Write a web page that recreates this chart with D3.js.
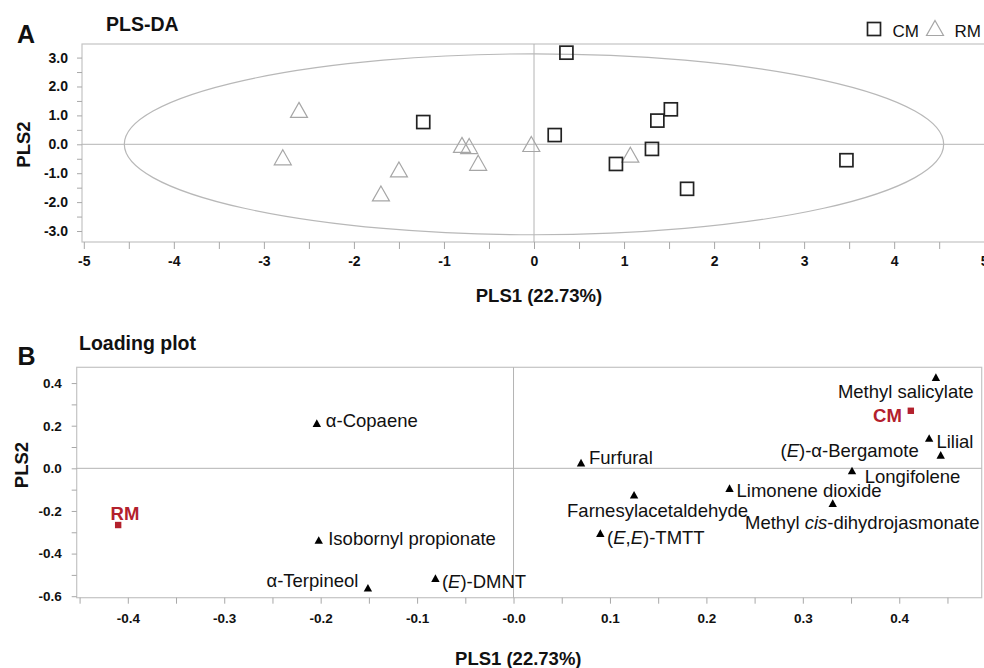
<!DOCTYPE html>
<html>
<head>
<meta charset="utf-8">
<script src="https://cdn.jsdelivr.net/npm/d3@7"></script>
<style>
  html, body { margin: 0; padding: 0; background: #fff; }
  svg { display: block; font-family: "Liberation Sans", Arial, sans-serif; }
</style>
</head>
<body>
<svg id="chart" width="984" height="668"></svg>
<script>
// ---------------- DATA ----------------
// Panel A: PLS-DA scores
const cmScoreX = [0.36, 0.23, 1.52, 1.37, 1.31, 0.91, 1.70, 3.47, -1.23];
const cmScoreY = [3.17, 0.32, 1.21, 0.82, -0.16, -0.68, -1.54, -0.55, 0.77];
const rmScoreX = [-2.61, -2.79, -1.50, -1.70, -0.80, -0.72, -0.62, -0.03, 1.07];
const rmScoreY = [1.19, -0.45, -0.87, -1.70, -0.02, -0.06, -0.64, 0.01, -0.36];
const ellipseRadiusX = 4.55;   // Hotelling T2 ellipse (PLS1 units)
const ellipseRadiusY = 3.13;   // (PLS2 units)
const legendGroups = ["CM", "RM"];

const xTicksA = [-5, -4, -3, -2, -1, 0, 1, 2, 3, 4, 5];
const yTicksA = [3, 2, 1, 0, -1, -2, -3];
const xTickLabelsA = ["-5", "-4", "-3", "-2", "-1", "0", "1", "2", "3", "4", "5"];
const yTickLabelsA = ["3.0", "2.0", "1.0", "0.0", "-1.0", "-2.0", "-3.0"];

// Panel B: loading plot
const loadNames = [
  "α-Copaene", "Isobornyl propionate", "α-Terpineol", "(<i>E</i>)-DMNT",
  "Furfural", "Farnesylacetaldehyde", "(<i>E</i>,<i>E</i>)-TMTT", "Limonene dioxide",
  "Methyl <i>cis</i>-dihydrojasmonate", "Longifolene", "Lilial",
  "(<i>E</i>)-α-Bergamote", "Methyl salicylate"
];
const loadX = [-0.204, -0.202, -0.151, -0.081, 0.070, 0.125, 0.090, 0.224, 0.331, 0.351, 0.431, 0.443, 0.438];
const loadY = [0.211, -0.337, -0.561, -0.516, 0.026, -0.125, -0.305, -0.094, -0.164, -0.011, 0.141, 0.062, 0.427];
const groupNames = ["CM", "RM"];
const groupX = [0.412, -0.410];
const groupY = [0.270, -0.266];

const xTicksB = [-0.4, -0.3, -0.2, -0.1, 0, 0.1, 0.2, 0.3, 0.4];
const xTickLabelsB = ["-0.4", "-0.3", "-0.2", "-0.1", "-0.0", "0.1", "0.2", "0.3", "0.4"];
const yTicksB = [0.4, 0.2, 0, -0.2, -0.4, -0.6];
const yTickLabelsB = ["0.4", "0.2", "0.0", "-0.2", "-0.4", "-0.6"];

// label placement (layout only): [dx, dy, anchor]
const loadLabelPlacement = [
  [9, 4, "start"], [9.5, 5, "start"], [-9.5, -1, "end"], [6.5, 10, "start"],
  [8, 1, "start"], [-67, 21.7, "start"], [6.7, 10.7, "start"], [7, 8.4, "start"],
  [-87.7, 25.7, "start"], [12.7, 12, "start"], [7.3, 10, "start"],
  [-22, 1.7, "end"], [-98, 21, "start"]
];
const groupLabelPlacement = [[-9, 11, "end"], [-7.6, -5, "start"]];

// ---------------- STYLE ----------------
const TEXT = "#111";
const FRAME = "#c4c4c4";
const ZERO = "#b4b4b4";
const TICK = "#a8a8a8";
const RED = "#b3212d";

const svg = d3.select("#chart");
svg.append("rect").attr("width", 984).attr("height", 668).attr("fill", "#fff");

function fmtAxis(g, fontSize) {
  g.select(".domain").remove();
  g.selectAll(".tick line").attr("stroke", TICK).attr("stroke-width", 1);
  g.selectAll(".tick text")
    .attr("fill", TEXT)
    .attr("font-size", fontSize)
    .attr("font-weight", "bold")
    .attr("font-family", "'Liberation Sans', Arial, sans-serif");
}
function isMajor(v, majors) { return majors.some(m => Math.abs(m - v) < 1e-9); }

// =============== PANEL A ===============
const xA = d3.scaleLinear().domain([-5.02, 5.02]).range([82, 986]);
const yA = d3.scaleLinear().domain([-3.38, 3.47]).range([242, 44]);
const A = svg.append("g");

// frame
A.append("rect")
  .attr("x", xA(-5.02)).attr("y", yA(3.47))
  .attr("width", xA(5.02) - xA(-5.02)).attr("height", yA(-3.38) - yA(3.47))
  .attr("fill", "none").attr("stroke", FRAME).attr("stroke-width", 1.2);

// zero lines
A.append("line").attr("x1", xA(0)).attr("x2", xA(0)).attr("y1", yA(3.47)).attr("y2", yA(-3.38))
  .attr("stroke", ZERO).attr("stroke-width", 1);
A.append("line").attr("x1", xA(-5.02)).attr("x2", xA(5.02)).attr("y1", yA(0)).attr("y2", yA(0))
  .attr("stroke", ZERO).attr("stroke-width", 1);

// ellipse
A.append("ellipse")
  .attr("cx", xA(0)).attr("cy", yA(0))
  .attr("rx", xA(ellipseRadiusX) - xA(0)).attr("ry", yA(0) - yA(ellipseRadiusY))
  .attr("fill", "none").attr("stroke", "#b8b8b8").attr("stroke-width", 1.2);

// axes
const xAllA = d3.range(-5, 5.001, 0.5);
A.append("g").attr("transform", `translate(0,${yA(-3.38)})`)
  .call(d3.axisBottom(xA).tickValues(xAllA).tickSize(7).tickPadding(7)
    .tickFormat(v => isMajor(v, xTicksA) ? xTickLabelsA[xTicksA.findIndex(m => Math.abs(m - v) < 1e-9)] : ""))
  .call(g => fmtAxis(g, 14));

const yAllA = d3.range(-3, 3.001, 0.5);
A.append("g").attr("transform", `translate(${xA(-5.02)},0)`)
  .call(d3.axisLeft(yA).tickValues(yAllA).tickSize(5).tickPadding(9)
    .tickFormat(v => isMajor(v, yTicksA) ? yTickLabelsA[yTicksA.findIndex(m => Math.abs(m - v) < 1e-9)] : ""))
  .call(g => fmtAxis(g, 14));

// markers
const triPathA = "M0,-7.5L8.5,7.5L-8.5,7.5Z";
const sqSizeA = 13;
A.selectAll(".rm").data(rmScoreX.map((x, i) => [x, rmScoreY[i]])).enter()
  .append("path").attr("d", triPathA)
  .attr("transform", d => `translate(${xA(d[0])},${yA(d[1])})`)
  .attr("fill", "none").attr("stroke", "#a6a6a6").attr("stroke-width", 1.2);
A.selectAll(".cm").data(cmScoreX.map((x, i) => [x, cmScoreY[i]])).enter()
  .append("rect")
  .attr("x", d => xA(d[0]) - sqSizeA / 2).attr("y", d => yA(d[1]) - sqSizeA / 2)
  .attr("width", sqSizeA).attr("height", sqSizeA)
  .attr("fill", "none").attr("stroke", "#222").attr("stroke-width", 1.7);

// legend
const leg = A.append("g");
leg.append("rect").attr("x", 874 - 6.5).attr("y", 29 - 6.5).attr("width", 13).attr("height", 13)
  .attr("fill", "none").attr("stroke", "#222").attr("stroke-width", 1.7);
leg.append("text").attr("x", 892.5).attr("y", 37).attr("font-size", 17).attr("fill", TEXT).text(legendGroups[0]);
leg.append("path").attr("d", triPathA).attr("transform", "translate(935,28)")
  .attr("fill", "none").attr("stroke", "#a6a6a6").attr("stroke-width", 1.2);
leg.append("text").attr("x", 954.5).attr("y", 37).attr("font-size", 17).attr("fill", TEXT).text(legendGroups[1]);

// titles
A.append("text").attr("x", 17).attr("y", 43.3).attr("font-size", 25).attr("font-weight", "bold").attr("fill", TEXT).text("A");
A.append("text").attr("x", 106).attr("y", 30.7).attr("font-size", 19.5).attr("font-weight", "bold").attr("fill", TEXT).text("PLS-DA");
A.append("text").attr("x", 539).attr("y", 302).attr("text-anchor", "middle").attr("font-size", 18.5)
  .attr("font-weight", "bold").attr("fill", TEXT).text("PLS1 (22.73%)");
A.append("text").attr("transform", "translate(30,144.5) rotate(-90)").attr("text-anchor", "middle")
  .attr("font-size", 18.5).attr("font-weight", "bold").attr("fill", TEXT).text("PLS2");

// =============== PANEL B ===============
const xB = d3.scaleLinear().domain([-0.453, 0.4855]).range([76.7, 981.7]);
const yB = d3.scaleLinear().domain([-0.607, 0.474]).range([597.7, 367.3]);
const B = svg.append("g");

B.append("rect")
  .attr("x", xB(-0.453)).attr("y", yB(0.474))
  .attr("width", xB(0.4855) - xB(-0.453)).attr("height", yB(-0.607) - yB(0.474))
  .attr("fill", "none").attr("stroke", FRAME).attr("stroke-width", 1.2);
B.append("line").attr("x1", xB(0)).attr("x2", xB(0)).attr("y1", yB(0.474)).attr("y2", yB(-0.607))
  .attr("stroke", ZERO).attr("stroke-width", 1);
B.append("line").attr("x1", xB(-0.453)).attr("x2", xB(0.4855)).attr("y1", yB(0)).attr("y2", yB(0))
  .attr("stroke", ZERO).attr("stroke-width", 1);

const xAllB = d3.range(-0.45, 0.4501, 0.05).map(v => Math.round(v * 100) / 100);
B.append("g").attr("transform", `translate(0,${yB(-0.607)})`)
  .call(d3.axisBottom(xB).tickValues(xAllB).tickSize(6).tickPadding(10)
    .tickFormat(v => isMajor(v, xTicksB) ? xTickLabelsB[xTicksB.findIndex(m => Math.abs(m - v) < 1e-9)] : ""))
  .call(g => fmtAxis(g, 13.5));

const yAllB = d3.range(-0.6, 0.4001, 0.1).map(v => Math.round(v * 10) / 10);
B.append("g").attr("transform", `translate(${xB(-0.453)},0)`)
  .call(d3.axisLeft(yB).tickValues(yAllB).tickSize(5).tickPadding(10)
    .tickFormat(v => isMajor(v, yTicksB) ? yTickLabelsB[yTicksB.findIndex(m => Math.abs(m - v) < 1e-9)] : ""))
  .call(g => fmtAxis(g, 13.5));

// loading triangles
const triPathB = "M0,-4L4.2,3.6L-4.2,3.6Z";
B.selectAll(".ld").data(loadX.map((x, i) => ({ x, y: loadY[i], name: loadNames[i], p: loadLabelPlacement[i] })))
  .enter().append("path").attr("d", triPathB)
  .attr("transform", d => `translate(${xB(d.x)},${yB(d.y)})`)
  .attr("fill", "#000");

function richText(sel, str) {
  const parts = str.split(/(<i>.*?<\/i>)/).filter(s => s.length);
  parts.forEach(p => {
    const it = p.startsWith("<i>");
    sel.append("tspan").attr("font-style", it ? "italic" : "normal").text(it ? p.slice(3, -4) : p);
  });
}
loadX.forEach((x, i) => {
  const p = loadLabelPlacement[i];
  const t = B.append("text")
    .attr("x", xB(x) + p[0]).attr("y", yB(loadY[i]) + p[1])
    .attr("text-anchor", p[2]).attr("font-size", 18.5).attr("fill", TEXT);
  richText(t, loadNames[i]);
});

// group centroids (red)
groupX.forEach((x, i) => {
  B.append("rect").attr("x", xB(x) - 3.2).attr("y", yB(groupY[i]) - 3.2)
    .attr("width", 6.4).attr("height", 6.4).attr("fill", RED);
  const p = groupLabelPlacement[i];
  B.append("text").attr("x", xB(x) + p[0]).attr("y", yB(groupY[i]) + p[1])
    .attr("text-anchor", p[2]).attr("font-size", 18.5).attr("font-weight", "bold")
    .attr("fill", RED).text(groupNames[i]);
});

// titles
B.append("text").attr("x", 17.5).attr("y", 365).attr("font-size", 25).attr("font-weight", "bold").attr("fill", TEXT).text("B");
B.append("text").attr("x", 79).attr("y", 349.5).attr("font-size", 19.5).attr("font-weight", "bold").attr("fill", TEXT).text("Loading plot");
B.append("text").attr("x", 518.3).attr("y", 665).attr("text-anchor", "middle").attr("font-size", 18.5)
  .attr("font-weight", "bold").attr("fill", TEXT).text("PLS1 (22.73%)");
B.append("text").attr("transform", "translate(27.5,465) rotate(-90)").attr("text-anchor", "middle")
  .attr("font-size", 18.5).attr("font-weight", "bold").attr("fill", TEXT).text("PLS2");
</script>
</body>
</html>
